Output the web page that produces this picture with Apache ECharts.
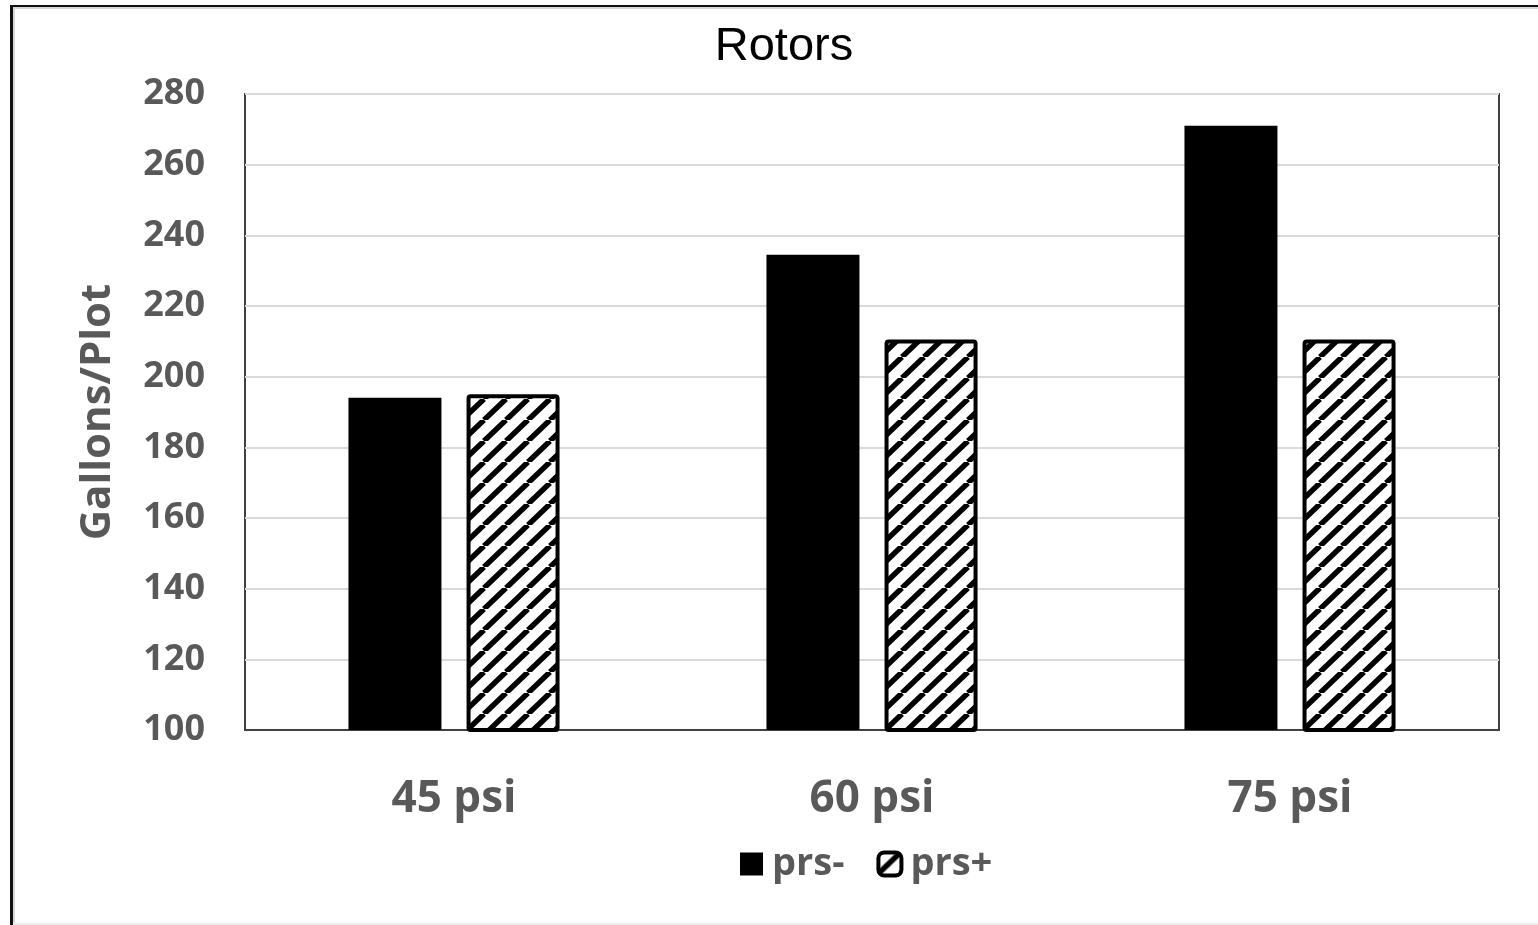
<!DOCTYPE html>
<html>
<head>
<meta charset="utf-8">
<script src="https://cdn.jsdelivr.net/npm/echarts@6/dist/echarts.min.js"></script>
<style>
html,body{margin:0;padding:0;background:#fff;}
#chart{width:1538px;height:925px;}
</style>
</head>
<body>
<div id="chart"></div>
<script>
const categories = ['45 psi', '60 psi', '75 psi'];
const prsMinus = [194, 234.5, 271];
const prsPlus = [195, 210.5, 210.5];
const yTicks = {min: 100, max: 280, interval: 20};

function makeStripes() {
  const W = 22, H = 21;
  const c = document.createElement('canvas');
  c.width = W; c.height = H;
  const g = c.getContext('2d');
  g.fillStyle = '#fff';
  g.fillRect(0, 0, W, H);
  g.strokeStyle = '#000';
  g.lineWidth = 5.5;
  for (let k = -1; k <= 1; k++) {
    g.beginPath();
    g.moveTo(k * W, H);
    g.lineTo(k * W + W, 0);
    g.stroke();
  }
  return c;
}
const stripes = makeStripes();

const chart = echarts.init(document.getElementById('chart'), null, {renderer: 'canvas'});
const gray = '#595959';
const font = "'Open Sans', sans-serif";

chart.setOption({
  backgroundColor: '#fff',
  animation: false,
  title: {
    text: 'Rotors',
    left: 779,
    textAlign: 'center',
    top: 19,
    textStyle: {fontFamily: "'Liberation Sans', Arial, sans-serif", fontSize: 47, fontWeight: 'normal', color: '#000'}
  },
  legend: {
    left: 735,
    top: 840,
    itemWidth: 23,
    itemHeight: 23,
    itemGap: 32,
    textStyle: {fontFamily: font, fontSize: 38, fontWeight: 'bold', color: gray, padding: [0, 0, 0, 4]},
    data: [
      {name: 'prs-', icon: 'rect'},
      {name: 'prs+', icon: 'roundRect', itemStyle: {borderWidth: 4, borderColor: '#000'}}
    ]
  },
  grid: {
    left: 245, right: 39, top: 94, bottom: 195,
    show: true, borderColor: '#404040', borderWidth: 2, backgroundColor: 'transparent'
  },
  xAxis: {
    type: 'category',
    data: categories,
    axisLine: {show: true, lineStyle: {color: '#404040', width: 2}},
    axisTick: {show: false},
    axisLabel: {fontFamily: font, fontSize: 44, fontWeight: 'bold', color: gray, margin: 47}
  },
  yAxis: {
    type: 'value',
    min: yTicks.min, max: yTicks.max, interval: yTicks.interval,
    name: 'Gallons/Plot',
    nameLocation: 'middle',
    nameGap: 126,
    nameTextStyle: {fontFamily: font, fontSize: 42, fontWeight: 'bold', color: gray},
    axisLine: {show: false},
    axisTick: {show: false},
    axisLabel: {fontFamily: font, fontSize: 36, fontWeight: 'bold', color: gray, margin: 40},
    splitLine: {show: true, lineStyle: {color: '#d9d9d9', width: 2}}
  },
  series: [
    {
      name: 'prs-', type: 'bar', data: prsMinus,
      barCategoryGap: '49.5%', barGap: '27%',
      itemStyle: {color: '#000'}
    },
    {
      name: 'prs+', type: 'bar', data: prsPlus,
      barCategoryGap: '49.5%', barGap: '27%',
      itemStyle: {color: {image: stripes, repeat: 'repeat'}, borderColor: '#000', borderWidth: 4, borderRadius: 2}
    }
  ],
  graphic: [
    {type: 'rect', shape: {x: 10, y: 5, width: 1528, height: 2}, style: {fill: '#111'}, z: 100},
    {type: 'rect', shape: {x: 10, y: 7, width: 1528, height: 2}, style: {fill: '#d8d8d8'}, z: 100},
    {type: 'rect', shape: {x: 10, y: 5, width: 3, height: 920}, style: {fill: '#111'}, z: 100},
    {type: 'rect', shape: {x: 13, y: 7, width: 2, height: 918}, style: {fill: '#d8d8d8'}, z: 100},
    {type: 'rect', shape: {x: 13, y: 923, width: 1525, height: 2}, style: {fill: '#ececec'}, z: 100}
  ]
});
</script>
</body>
</html>
